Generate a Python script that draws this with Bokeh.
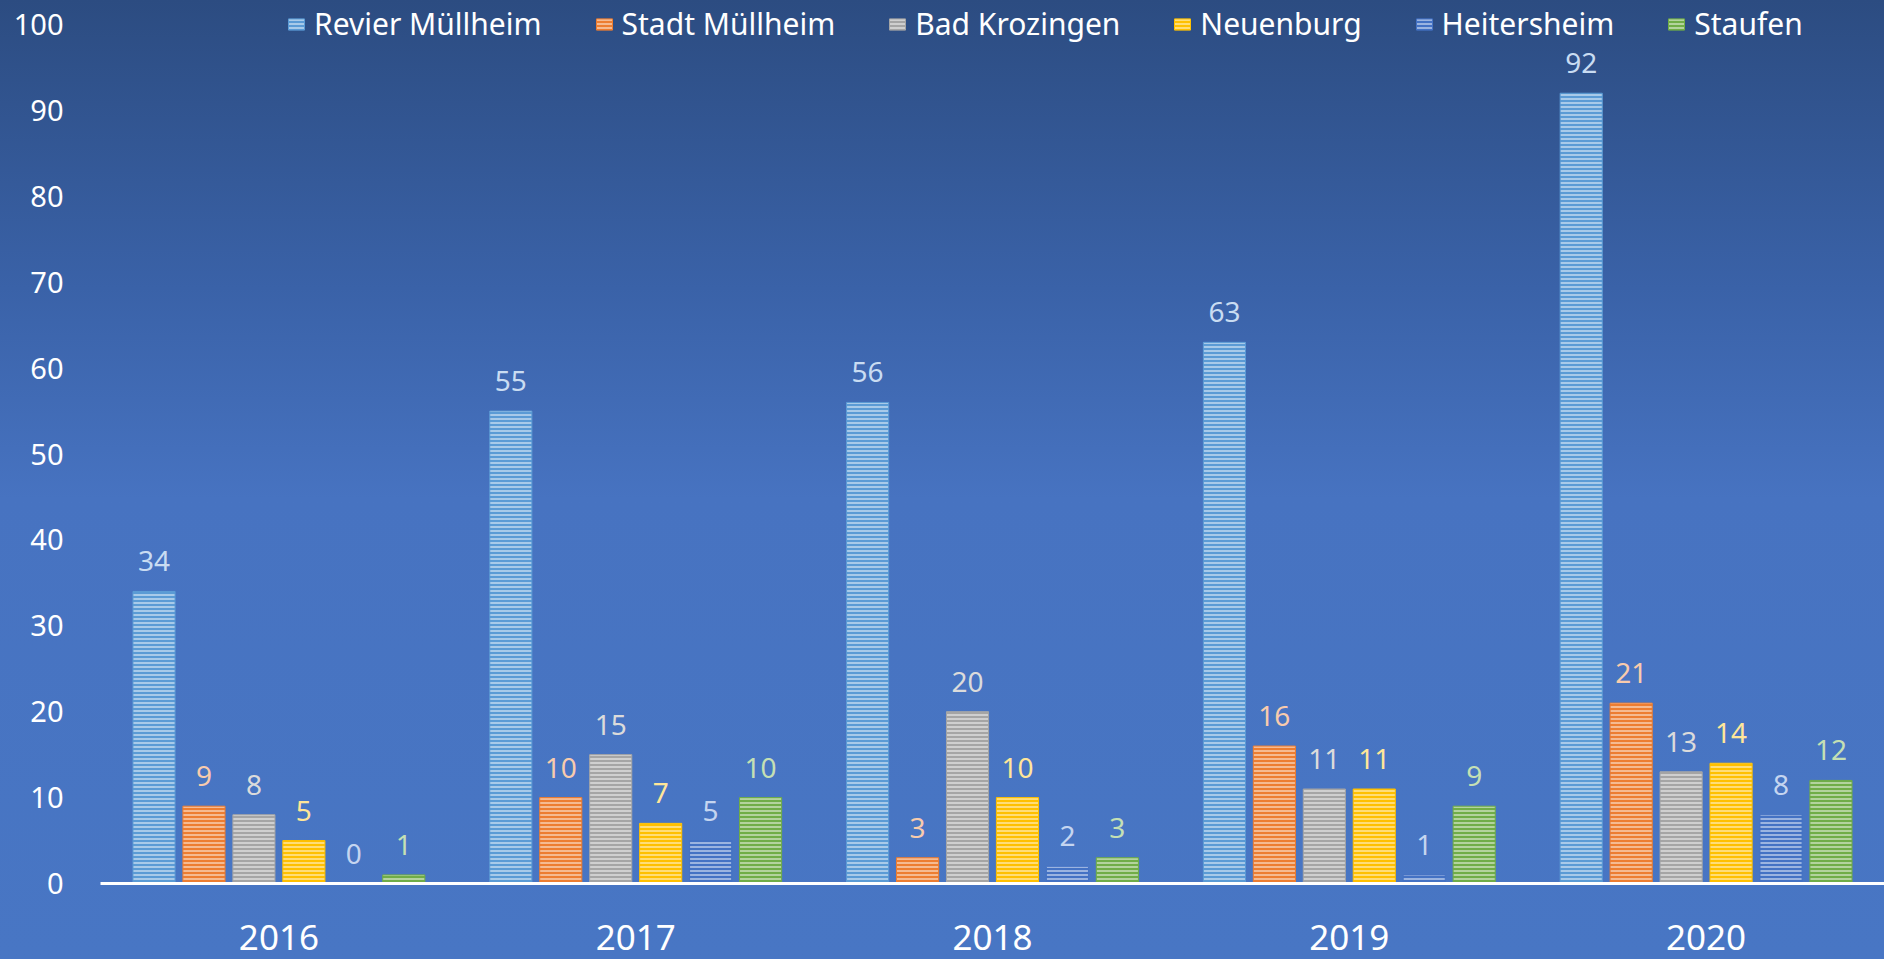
from bokeh.plotting import figure
from bokeh.models import (ColumnDataSource, FactorRange, Range1d, Legend, LegendItem,
                          GlobalInlineStyleSheet, SingleIntervalTicker)
from bokeh.transform import dodge
from bokeh.core.properties import value
from bokeh.embed import file_html
from bokeh.resources import INLINE

years = ["2016", "2017", "2018", "2019", "2020"]
series = ["Revier Müllheim", "Stadt Müllheim", "Bad Krozingen", "Neuenburg", "Heitersheim", "Staufen"]
revier_muellheim = [34, 55, 56, 63, 92]
stadt_muellheim = [9, 10, 3, 16, 21]
bad_krozingen = [8, 15, 20, 11, 13]
neuenburg = [5, 7, 10, 11, 14]
heitersheim = [0, 5, 2, 1, 8]
staufen = [1, 10, 3, 9, 12]
values = [revier_muellheim, stadt_muellheim, bad_krozingen, neuenburg, heitersheim, staufen]

bar_colors = ["#5B9BD5", "#ED7D31", "#A5A5A5", "#FFC000", "#4472C4", "#70AD47"]
label_colors = ["#C9DCF2", "#F8CBAD", "#DBDBDB", "#FFE699", "#C5D5F0", "#C5E0B4"]
offsets = [-0.35, -0.21, -0.07, 0.07, 0.21, 0.35]

FONT = "Noto Sans"
W, H = 1884, 959
LEFT = 100
BOTTOM = 76
px_per_unit = 8.59
frame_h = H - BOTTOM
y_top = frame_h / px_per_unit

p = figure(width=W, height=H, x_range=FactorRange(*years, range_padding=0),
           y_range=Range1d(0, y_top), output_backend="svg", toolbar_location=None,
           min_border_left=LEFT, min_border_right=0, min_border_top=0,
           min_border_bottom=BOTTOM)
p.background_fill_color = None
p.border_fill_color = None
p.outline_line_color = None
p.xgrid.visible = False
p.ygrid.visible = False

p.stylesheets = [GlobalInlineStyleSheet(css=(
    "html{min-height:100%;background:linear-gradient(to bottom,#2C4C81 0%,#3A62A8 30%,#4773C1 52%,#4876C4 100%) fixed;}"
    "body{background:transparent;}"))]

renderers = []
for name, vals, col, lcol, off in zip(series, values, bar_colors, label_colors, offsets):
    src = ColumnDataSource(dict(year=years, top=vals, label=[str(v) for v in vals]))
    r = p.vbar(x=dodge("year", off, range=p.x_range), top="top", width=0.118, bottom=0,
               source=src, fill_color=col, line_color=col, line_width=1,
               hatch_pattern="horizontal_line", hatch_color="white", hatch_alpha=0.55,
               hatch_scale=4, hatch_weight=1.7)
    renderers.append((name, r))
    p.text(x=dodge("year", off, range=p.x_range), y="top", text="label", source=src,
           text_align="center", text_baseline="middle", y_offset=-30,
           text_color=lcol, text_font=value(FONT), text_font_size="28px")

# axes
p.yaxis.ticker = SingleIntervalTicker(interval=10)
p.yaxis.axis_line_color = None
p.yaxis.major_tick_line_color = None
p.yaxis.minor_tick_line_color = None
p.yaxis.major_tick_out = 0
p.yaxis.major_label_standoff = 33
p.yaxis.major_label_text_color = "white"
p.yaxis.major_label_text_font = FONT
p.yaxis.major_label_text_font_size = "29px"

p.xaxis.axis_line_color = "white"
p.xaxis.axis_line_width = 3
p.xaxis.major_tick_line_color = None
p.xaxis.minor_tick_line_color = None
p.xaxis.major_tick_out = 0
p.xaxis.major_label_standoff = 41
p.xaxis.major_label_text_color = "white"
p.xaxis.major_label_text_font = FONT
p.xaxis.major_label_text_font_size = "35px"

legend = Legend(items=[LegendItem(label=n, renderers=[r]) for n, r in renderers],
                orientation="horizontal", location=(186, frame_h - 44),
                background_fill_alpha=0, border_line_color=None, padding=0, margin=0,
                spacing=52, glyph_width=20, glyph_height=14, label_standoff=8,
                label_text_color="white", label_text_font=FONT,
                label_text_font_size="30px", label_height=38)
p.add_layout(legend, "center")

open("out.html", "w").write(file_html(p, INLINE))
